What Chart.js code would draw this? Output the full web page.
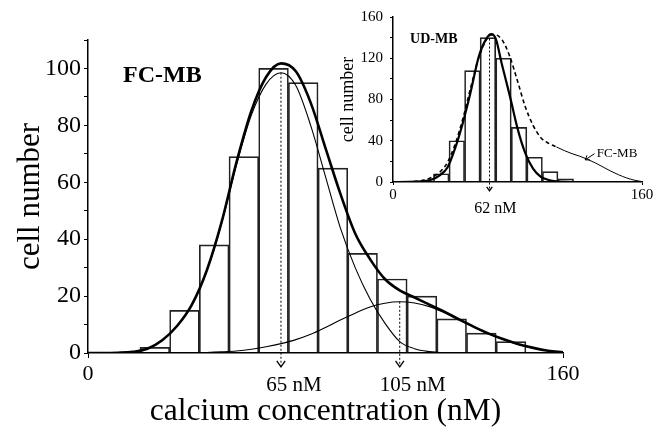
<!DOCTYPE html>
<html>
<head>
<meta charset="utf-8">
<script src="https://cdn.jsdelivr.net/npm/chart.js@4.4.1/dist/chart.umd.min.js"></script>
<style>
  html, body { margin: 0; padding: 0; background: #fff; }
  #wrap { position: relative; width: 664px; height: 431px; }
  #main { position: absolute; left: 0; top: 0; }
  #inset { position: absolute; left: 330px; top: 0; }
</style>
</head>
<body>
<div id="wrap">
  <canvas id="main" width="664" height="431"></canvas>
  <canvas id="inset" width="334" height="225"></canvas>
</div>
<script>
// ---- main panel: FC-MB histogram, 10 nM bins ----
const binCenters = [22.5, 32.5, 42.5, 52.5, 62.5, 72.5, 82.5, 92.5, 102.5, 112.5, 122.5, 132.5, 142.5];
const cellCounts = [2, 15, 38, 69, 100, 95, 65, 35, 26, 20, 12, 7, 4];

// fitted curves, every 5 nM
const curveX = [0, 5, 10, 15, 20, 25, 30, 35, 40, 45, 50, 55, 60, 65, 70, 75, 80,
                85, 90, 95, 100, 105, 110, 115, 120, 125, 130, 135, 140, 145, 150, 155, 160];
const fitTotal = [0, 0, 0.1, 0.4, 1.5, 4.5, 9.5, 17, 29, 46, 67, 85, 97, 101.8, 99, 88, 72,
                  56, 42, 33, 26, 22, 19.5, 17, 14.5, 11.8, 9.2, 6.8, 4.8, 3.1, 1.8, 0.8, 0.2];
const fitPeak1 = [0, 0, 0.1, 0.4, 1.5, 4.5, 9.5, 17, 28.8, 45.6, 66, 83.5, 94.5, 98.5, 94, 80, 62,
                  44, 30, 19, 10.5, 4, 1.5, 0.5, 0.1, 0, 0, 0, 0, 0, 0, 0, 0];
const fitPeak2 = [0, 0, 0, 0, 0, 0, 0, 0.1, 0.2, 0.4, 0.7, 1.3, 2.2, 3.3, 4.7, 6.6, 9,
                  11.6, 14, 16.2, 17.5, 18, 17.6, 16.3, 14.2, 11.6, 9.1, 6.7, 4.7, 3.0, 1.7, 0.8, 0.2];

const yTicksMain = [0, 20, 40, 60, 80, 100];
const xTicksMain = [0, 160];
const markX = [65, 105];
const markTop = [98.5, 18];
const markLabels = ['65 nM', '105 nM'];

// ---- inset: UD-MB histogram ----
const insetBinCenters = [31, 41, 51, 61, 71, 81, 91, 101, 111];
const insetCounts = [8, 40, 108, 140, 120, 53, 24, 10, 3];
const udX = [0, 10, 15, 20, 25, 30, 35, 40, 45, 50, 55, 60, 63, 66, 70, 75, 80, 85, 90, 95, 100, 105, 110, 120, 160];
const udFit = [0, 0.1, 0.3, 0.9, 2.5, 6.5, 14, 33, 58, 88, 121, 139, 143.5, 139, 114, 84, 52, 28, 13, 5, 2, 0.6, 0.2, 0, 0];
const fcX = [0, 10, 15, 20, 25, 30, 35, 40, 45, 50, 55, 60, 65, 70, 75, 80, 85, 90, 95, 100,
             105, 110, 115, 120, 125, 130, 135, 140, 145, 150, 155, 160];
const fcScaled = [0, 0.2, 0.6, 1.8, 4.5, 9.5, 19, 37, 62, 92, 120, 138, 143, 138, 122, 98, 73, 55, 43, 37.5,
                  34, 30.5, 27.5, 25, 22, 18.5, 14.5, 10.5, 7, 4, 1.8, 0.4];
const yTicksInset = [0, 40, 80, 120, 160];
const xTicksInset = [0, 160];
const insetMarkX = [62];
const insetMarkTop = [143];
const insetMarkLabels = ['62 nM'];

const SERIF = "'Liberation Serif', 'Times New Roman', serif";
Chart.defaults.font.family = SERIF;
Chart.defaults.color = '#000';

const pts = (xs, ys) => xs.map((x, i) => ({ x: x, y: ys[i] }));

function markLines(xs, tops, bottom) {
  return xs.map((x, i) => ({
    type: 'line',
    data: [{ x: x, y: tops[i] }, { x: x, y: bottom }],
    borderColor: '#000', borderWidth: 1, borderDash: [2, 2],
    pointRadius: 0, clip: false, order: 0
  }));
}

function arrowHead(ctx, px, py, dx, dy, size) {
  // open chevron pointing along (dx, dy)
  const len = Math.hypot(dx, dy);
  const ux = dx / len, uy = dy / len;
  ctx.beginPath();
  ctx.moveTo(px - ux * size - uy * size * 0.7, py - uy * size + ux * size * 0.7);
  ctx.lineTo(px, py);
  ctx.lineTo(px - ux * size + uy * size * 0.7, py - uy * size - ux * size * 0.7);
  ctx.stroke();
}

function notesPlugin(opts) {
  return {
    id: 'notes',
    afterDatasetsDraw(chart) {
      const { ctx, scales: { x, y } } = chart;
      ctx.save();
      ctx.strokeStyle = '#000';
      ctx.fillStyle = '#000';
      ctx.lineWidth = 1.3;
      opts.marks.forEach((mx, i) => {
        const px = x.getPixelForValue(mx);
        const tip = y.getPixelForValue(opts.tipValue);
        arrowHead(ctx, px, tip, 0, 1, opts.arrowSize);
        ctx.font = opts.labelFont;
        ctx.textAlign = 'center';
        ctx.textBaseline = 'middle';
        ctx.fillText(opts.labels[i], px + opts.labelDx, tip + opts.labelDy);
      });
      opts.texts.forEach(t => {
        ctx.font = t.font;
        ctx.textAlign = 'left';
        ctx.textBaseline = 'middle';
        ctx.fillText(t.text, x.getPixelForValue(t.x), y.getPixelForValue(t.y));
      });
      if (opts.pointer) {
        const p = opts.pointer;
        const x0 = x.getPixelForValue(p[0]), y0 = y.getPixelForValue(p[1]);
        const x1 = x.getPixelForValue(p[2]), y1 = y.getPixelForValue(p[3]);
        ctx.lineWidth = 1;
        ctx.beginPath(); ctx.moveTo(x0, y0); ctx.lineTo(x1, y1); ctx.stroke();
        arrowHead(ctx, x1, y1, x1 - x0, y1 - y0, 4);
      }
      ctx.restore();
    }
  };
}

function axisOpts(o) {
  return {
    type: 'linear', min: o.min, max: o.max, offset: false,
    afterBuildTicks: s => { s.ticks = o.ticks.map(v => ({ value: v })); },
    afterFit: s => { if (o.width) s.width = o.width; if (o.height) s.height = o.height; },
    ticks: {
      autoSkip: false, maxRotation: 0, padding: o.pad,
      font: { size: o.tickSize }, color: '#000',
      callback: v => (o.labelled.includes(v) ? String(v) : '')
    },
    grid: { drawOnChartArea: false, offset: false, tickLength: o.tickLength, color: '#000', tickWidth: 1 },
    border: { color: '#000', width: 1.5 },
    title: o.title ? {
      display: true, text: o.title, color: '#000',
      font: { size: o.titleSize }, padding: o.titlePad
    } : { display: false }
  };
}

// ---- main chart ----
const minorY = [];
for (let v = 0; v <= 110; v += 10) minorY.push(v);

new Chart(document.getElementById('main'), {
  type: 'line',
  data: {
    datasets: [
      {
        type: 'bar', data: pts(binCenters, cellCounts),
        backgroundColor: 'rgba(0,0,0,0)', borderColor: '#222', borderWidth: 1,
        barPercentage: 1, categoryPercentage: 1, order: 5
      },
      { data: pts(curveX, fitPeak1), borderColor: '#000', borderWidth: 1.1, pointRadius: 0, cubicInterpolationMode: 'monotone', order: 2 },
      { data: pts(curveX, fitPeak2), borderColor: '#000', borderWidth: 1.1, pointRadius: 0, cubicInterpolationMode: 'monotone', order: 2 },
      { data: pts(curveX, fitTotal), borderColor: '#000', borderWidth: 2.6, pointRadius: 0, cubicInterpolationMode: 'monotone', order: 1 },
      ...markLines(markX, markTop, -4.9)
    ]
  },
  options: {
    responsive: false, animation: false,
    layout: { padding: { top: 40, right: 101, left: 0, bottom: 0 } },
    plugins: { legend: { display: false }, tooltip: { enabled: false } },
    scales: {
      x: axisOpts({ min: 0, max: 160, ticks: xTicksMain, labelled: xTicksMain, height: 78, pad: 3,
                    tickSize: 22, tickLength: 5,
                    title: 'calcium concentration (nM)', titleSize: 31.5, titlePad: { top: 0, bottom: 0 } }),
      y: axisOpts({ min: 0, max: 110, ticks: minorY, labelled: yTicksMain, width: 88, pad: 3,
                    tickSize: 24, tickLength: 4,
                    title: 'cell number', titleSize: 31, titlePad: { top: 12, bottom: 0 } })
    }
  },
  plugins: [notesPlugin({
    marks: markX, labels: markLabels, tipValue: -4.9, arrowSize: 6,
    labelFont: '21px ' + SERIF, labelDx: 13, labelDy: 19,
    texts: [{ text: 'FC-MB', x: 11.8, y: 97.5, font: 'bold 24px ' + SERIF }]
  })]
});

// ---- inset chart ----
const minorInset = [];
for (let v = 0; v <= 160; v += 20) minorInset.push(v);

new Chart(document.getElementById('inset'), {
  type: 'line',
  data: {
    datasets: [
      {
        type: 'bar', data: pts(insetBinCenters, insetCounts),
        backgroundColor: 'rgba(0,0,0,0)', borderColor: '#222', borderWidth: 1,
        barPercentage: 1, categoryPercentage: 1, order: 5
      },
      {
        data: pts(fcX, fcScaled), borderColor: '#000', borderWidth: 1, pointRadius: 0,
        cubicInterpolationMode: 'monotone', order: 2,
        segment: {
          borderDash: c => (c.p1.parsed.x <= 105 ? [4, 3] : undefined),
          borderWidth: c => (c.p1.parsed.x <= 105 ? 1.6 : undefined)
        }
      },
      { data: pts(udX, udFit), borderColor: '#000', borderWidth: 2.2, pointRadius: 0, cubicInterpolationMode: 'monotone', order: 1 },
      ...markLines(insetMarkX, insetMarkTop, -8.5)
    ]
  },
  options: {
    responsive: false, animation: false,
    layout: { padding: { top: 17, right: 22, left: 0, bottom: 0 } },
    plugins: { legend: { display: false }, tooltip: { enabled: false } },
    scales: {
      x: axisOpts({ min: 0, max: 160, ticks: xTicksInset, labelled: xTicksInset, height: 43, pad: 1,
                    tickSize: 15, tickLength: 3 }),
      y: axisOpts({ min: 0, max: 160, ticks: minorInset, labelled: yTicksInset, width: 63, pad: 7,
                    tickSize: 15, tickLength: 3,
                    title: 'cell number', titleSize: 18, titlePad: { top: 7, bottom: 0 } })
    }
  },
  plugins: [notesPlugin({
    marks: insetMarkX, labels: insetMarkLabels, tipValue: -8.5, arrowSize: 4,
    labelFont: '16px ' + SERIF, labelDx: 6, labelDy: 18,
    texts: [
      { text: 'UD-MB', x: 11, y: 138, font: 'bold 14px ' + SERIF },
      { text: 'FC-MB', x: 131, y: 28, font: '13px ' + SERIF }
    ],
    pointer: [129.5, 27.5, 123.5, 21.5]
  })]
});
</script>
</body>
</html>
